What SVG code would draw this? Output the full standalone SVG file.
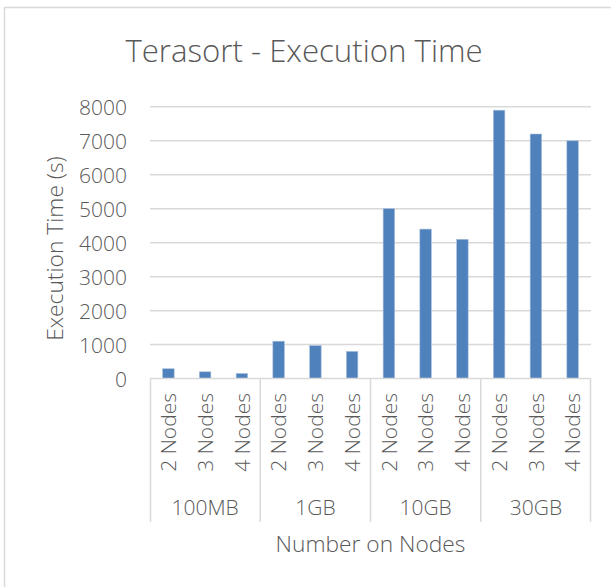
<svg xmlns="http://www.w3.org/2000/svg" width="611" height="587" viewBox="0 0 611 587">
  <style>
    text { font-family: "Open Sans", "Liberation Sans", sans-serif; font-weight: 300; fill: #595959; }
    .title { font-size: 31.2px; }
    .tick { font-size: 21px; text-anchor: end; }
    .cat { font-size: 21px; text-anchor: end; }
    .grp { font-size: 21px; text-anchor: middle; }
    .axt { font-size: 22.75px; text-anchor: middle; }
    .grid { stroke: #d9d9d9; stroke-width: 1.5; fill: none; }
    .bar { fill: #4f81bd; stroke: #a9bfdc; stroke-width: 0.6; }
  </style>

  <!-- chart area -->
  <rect x="0" y="0" width="611" height="587" fill="#ffffff"/>
  <path d="M4.5,587 V7.5 H611" fill="none" stroke="#d9d9d9" stroke-width="1.5"/>

  <!-- title -->
  <g id="title">
    <text class="title" x="304" y="62" text-anchor="middle">Terasort - Execution Time</text>
  </g>

  <!-- value axis: gridlines and labels -->
  <g id="value-axis">
    <g class="grid">
      <line x1="150" y1="106.8" x2="591" y2="106.8"/>
      <line x1="150" y1="140.8" x2="591" y2="140.8"/>
      <line x1="150" y1="174.75" x2="591" y2="174.75"/>
      <line x1="150" y1="208.7" x2="591" y2="208.7"/>
      <line x1="150" y1="242.7" x2="591" y2="242.7"/>
      <line x1="150" y1="276.7" x2="591" y2="276.7"/>
      <line x1="150" y1="310.65" x2="591" y2="310.65"/>
      <line x1="150" y1="344.6" x2="591" y2="344.6"/>
    </g>
    <text class="tick" x="127" y="114.5">8000</text>
    <text class="tick" x="127" y="148.5">7000</text>
    <text class="tick" x="127" y="182.5">6000</text>
    <text class="tick" x="127" y="216.5">5000</text>
    <text class="tick" x="127" y="250.5">4000</text>
    <text class="tick" x="127" y="284.5">3000</text>
    <text class="tick" x="127" y="318.5">2000</text>
    <text class="tick" x="127" y="352.5">1000</text>
    <text class="tick" x="127" y="386.5">0</text>
    <text class="axt" transform="translate(63,248.5) rotate(-90)">Execution Time (s)</text>
  </g>

  <!-- bars -->
  <g id="series">
    <rect class="bar" x="162.65" y="368.75" width="11.5" height="9.85"/>
    <rect class="bar" x="199.35" y="371.8" width="11.5" height="6.8"/>
    <rect class="bar" x="236.15" y="373.5" width="11.5" height="5.1"/>
    <rect class="bar" x="272.85" y="341.2" width="11.5" height="37.4"/>
    <rect class="bar" x="309.65" y="345.6" width="11.5" height="33"/>
    <rect class="bar" x="346.35" y="351.4" width="11.5" height="27.2"/>
    <rect class="bar" x="383.15" y="208.7" width="11.5" height="169.9"/>
    <rect class="bar" x="419.85" y="229.1" width="11.5" height="149.5"/>
    <rect class="bar" x="456.65" y="239.3" width="11.5" height="139.3"/>
    <rect class="bar" x="493.35" y="110.2" width="11.5" height="268.4"/>
    <rect class="bar" x="530.15" y="134" width="11.5" height="244.6"/>
    <rect class="bar" x="566.85" y="140.8" width="11.5" height="237.8"/>
  </g>

  <!-- category axis -->
  <g id="category-axis">
    <g class="grid">
      <line x1="150" y1="378.6" x2="591" y2="378.6"/>
      <line x1="150.5" y1="378.6" x2="150.5" y2="522"/>
      <line x1="260.25" y1="378.6" x2="260.25" y2="522"/>
      <line x1="370.5" y1="378.6" x2="370.5" y2="522"/>
      <line x1="480.75" y1="378.6" x2="480.75" y2="522"/>
      <line x1="590.5" y1="378.6" x2="590.5" y2="522"/>
    </g>
    <text class="cat" transform="translate(176,393) rotate(-90)">2 Nodes</text>
    <text class="cat" transform="translate(212.7,393) rotate(-90)">3 Nodes</text>
    <text class="cat" transform="translate(249.5,393) rotate(-90)">4 Nodes</text>
    <text class="cat" transform="translate(286.2,393) rotate(-90)">2 Nodes</text>
    <text class="cat" transform="translate(323,393) rotate(-90)">3 Nodes</text>
    <text class="cat" transform="translate(359.7,393) rotate(-90)">4 Nodes</text>
    <text class="cat" transform="translate(396.5,393) rotate(-90)">2 Nodes</text>
    <text class="cat" transform="translate(433.2,393) rotate(-90)">3 Nodes</text>
    <text class="cat" transform="translate(470,393) rotate(-90)">4 Nodes</text>
    <text class="cat" transform="translate(506.7,393) rotate(-90)">2 Nodes</text>
    <text class="cat" transform="translate(543.5,393) rotate(-90)">3 Nodes</text>
    <text class="cat" transform="translate(580.2,393) rotate(-90)">4 Nodes</text>
    <text class="grp" x="205.1" y="514.5">100MB</text>
    <text class="grp" x="315.4" y="514.5">1GB</text>
    <text class="grp" x="425.6" y="514.5">10GB</text>
    <text class="grp" x="535.9" y="514.5">30GB</text>
    <text class="axt" x="370.5" y="551.5">Number on Nodes</text>
  </g>
</svg>
